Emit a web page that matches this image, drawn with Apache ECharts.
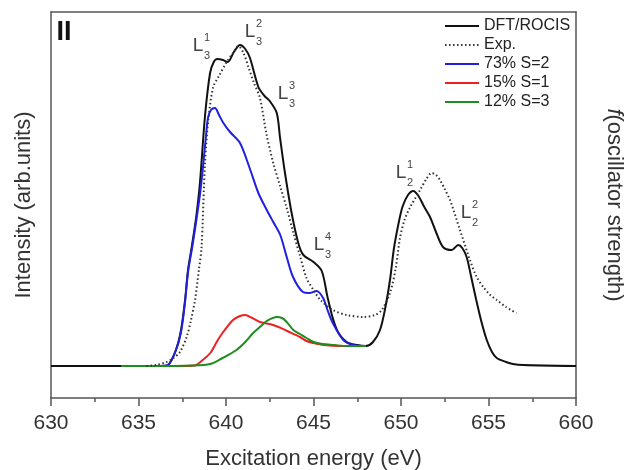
<!DOCTYPE html>
<html>
<head>
<meta charset="utf-8">
<script src="https://cdn.jsdelivr.net/npm/echarts@6/dist/echarts.min.js"></script>
<style>
html,body{margin:0;padding:0;background:#fff;}
#chart{width:627px;height:470px;}
</style>
</head>
<body>
<div id="chart"></div>
<script>
// ---- Data (x: excitation energy in eV, y: intensity in arbitrary units) ----
var xTicks = [630, 635, 640, 645, 650, 655, 660];

var dftRocis = [[630,32],[636,32],[636.4,32.3],[636.69,33],[637.14,48],[637.43,68],[637.66,98],[637.83,128],[638.06,153],[638.29,180],[638.51,215],[638.8,282],[639.09,325],[639.3,336],[639.5,339],[639.83,338],[640.1,336],[640.45,346],[640.8,353],[641.1,349],[641.37,340],[641.85,311],[642.2,302],[642.5,297],[642.9,285],[643.09,260],[643.37,225],[643.75,185],[644.13,155],[644.42,143],[645.0,136],[645.47,127],[645.8,101],[646.1,80],[646.4,66],[646.9,56],[647.5,53],[648.0,52],[648.4,56],[648.8,68],[649.1,90],[649.37,118],[649.6,150],[649.9,178],[650.1,192],[650.4,203],[650.7,207],[651.0,202],[651.3,192],[651.66,181],[652.0,166],[652.4,151],[652.9,148],[653.27,153],[653.5,150],[653.75,141],[654.0,122],[654.3,98],[654.6,76],[654.9,58],[655.2,46],[655.47,40],[656.0,36],[656.4,34],[657,33],[660,32]];

var experiment = [[635.46,32],[636.0,33],[636.6,36],[637.0,40],[637.37,46],[637.75,61],[638.0,78],[638.23,98],[638.45,128],[638.6,150],[638.8,235],[639.0,280],[639.27,311],[639.6,322],[640.04,336],[640.4,345],[640.7,352],[641.0,345],[641.3,330],[641.6,315],[641.94,300],[642.3,265],[642.7,235],[643.09,212],[643.47,190],[643.85,165],[644.23,142],[644.6,120],[645.0,108],[645.4,98],[646.1,88],[646.9,83],[647.85,81],[648.5,83],[648.9,88],[649.37,105],[649.7,130],[649.94,160],[650.2,178],[650.5,190],[651.09,208],[651.45,219],[651.75,225],[652.0,223],[652.23,218],[652.5,209],[652.8,198],[653.37,168],[653.94,138],[654.3,122],[654.7,111],[655.1,103],[655.47,98],[656.0,91],[656.6,85]];

var s2 = [[636.3,32],[636.69,33],[637.14,48],[637.43,66],[637.66,96],[637.83,126],[638.06,150],[638.29,176],[638.51,203],[638.69,232],[638.86,263],[638.97,280],[639.14,288],[639.37,290],[639.6,283],[639.85,275],[640.23,266],[640.8,255],[641.37,229],[641.85,205],[642.33,188],[642.7,176],[643.1,163],[643.47,141],[643.83,121],[644.4,106],[644.8,105],[645.18,107],[645.55,100],[645.8,88],[646.1,75],[646.7,58],[647.27,53],[648.0,52]];

var s1 = [[634,32],[637.5,32],[638.2,32.5],[638.6,37],[639.1,45],[639.5,57],[639.8,65],[640.4,78],[640.8,82],[641.09,83],[641.5,80],[641.94,76],[642.5,74],[643.0,71],[643.5,67],[644.23,61],[644.6,57],[645.0,55],[645.6,53],[646.5,52],[648.0,52]];

var s3 = [[634,32],[636,32],[638,32.5],[639.1,34],[639.8,40],[640.6,48],[641.1,56],[641.55,65],[642.0,72],[642.33,77],[642.9,81],[643.2,80],[643.47,76],[643.85,68],[644.23,64],[644.6,60],[645.0,56],[645.5,54],[646.2,53],[646.9,52],[648.0,52]];

var seriesNames = ['DFT/ROCIS', 'Exp.', '73% S=2', '15% S=1', '12% S=3'];

var FONT = '"Liberation Sans", Arial, Helvetica, sans-serif';
var chart = echarts.init(document.getElementById('chart'), null, {renderer: 'canvas'});

function lbl(x, y, sup, sub) {
  return [
    {type: 'text', x: x, y: y, z: 100, style: {text: 'L', font: '19px ' + FONT, fill: '#444', align: 'center', verticalAlign: 'middle'}},
    {type: 'text', x: x + 9, y: y - 8, z: 100, style: {text: sup, font: '11px ' + FONT, fill: '#444', align: 'center', verticalAlign: 'middle'}},
    {type: 'text', x: x + 9, y: y + 10, z: 100, style: {text: sub, font: '11px ' + FONT, fill: '#444', align: 'center', verticalAlign: 'middle'}}
  ];
}

var graphics = [].concat(
  [{type: 'text', x: 64, y: 33, z: 100, style: {text: 'II', font: 'bold 27px ' + FONT, fill: '#111', align: 'center', verticalAlign: 'middle'}}],
  lbl(198, 46, '1', '3'),
  lbl(250, 32, '2', '3'),
  lbl(283, 94, '3', '3'),
  lbl(319, 245, '4', '3'),
  lbl(401, 173, '1', '2'),
  lbl(466, 213, '2', '2')
);

var axisColor = '#555';
var option = {
  animation: false,
  backgroundColor: '#fff',
  grid: {left: 51, right: 51, top: 12, bottom: 72, containLabel: false, outerBoundsMode: 'none'},
  legend: {
    data: seriesNames,
    orient: 'vertical',
    left: 444, top: 18,
    itemWidth: 34, itemHeight: 14, itemGap: 3,
    padding: 0,
    itemStyle: {opacity: 0},
    textStyle: {fontFamily: FONT, fontSize: 16, color: '#222'}
  },
  xAxis: [{
    type: 'value', min: 630, max: 660, interval: 5,
    name: 'Excitation energy (eV)', nameLocation: 'middle', nameGap: 50,
    nameTextStyle: {fontFamily: FONT, fontSize: 22, color: '#333'},
    axisLine: {show: true, lineStyle: {color: axisColor, width: 1.5}},
    axisTick: {show: true, inside: false, length: 8, lineStyle: {color: axisColor, width: 1.5}},
    minorTick: {show: true, splitNumber: 2, length: 4, lineStyle: {color: axisColor, width: 1.5}},
    axisLabel: {fontFamily: FONT, fontSize: 21, color: '#333', margin: 15},
    splitLine: {show: false}
  }, {
    type: 'value', position: 'top', min: 630, max: 660,
    axisLine: {show: true, onZero: false, lineStyle: {color: axisColor, width: 1.5}},
    axisTick: {show: false}, axisLabel: {show: false}, splitLine: {show: false}
  }],
  yAxis: [{
    type: 'value', min: 0, max: 386, position: 'left',
    name: 'Intensity (arb.units)', nameLocation: 'middle', nameGap: 16, nameRotate: 90,
    nameTextStyle: {fontFamily: FONT, fontSize: 22, color: '#333'},
    axisLine: {show: true, onZero: false, lineStyle: {color: axisColor, width: 1.5}},
    axisTick: {show: false}, axisLabel: {show: false}, splitLine: {show: false}
  }, {
    type: 'value', min: 0, max: 386, position: 'right',
    name: '{i|f}(oscillator strength)', nameLocation: 'middle', nameGap: 27, nameRotate: -90,
    nameTextStyle: {fontFamily: FONT, fontSize: 22, color: '#333', rich: {i: {fontFamily: FONT, fontSize: 22, color: '#333', fontStyle: 'italic'}}},
    axisLine: {show: true, onZero: false, lineStyle: {color: axisColor, width: 1.5}},
    axisTick: {show: false}, axisLabel: {show: false}, splitLine: {show: false}
  }],
  series: [
    {name: seriesNames[0], type: 'line', data: dftRocis, smooth: 0.3, symbol: 'none', showSymbol: false, z: 2,
     lineStyle: {color: '#111', width: 2}, itemStyle: {color: '#111'}},
    {name: seriesNames[1], type: 'line', data: experiment, smooth: 0.3, symbol: 'none', showSymbol: false, z: 6,
     lineStyle: {color: '#333', width: 2, type: [1.5, 2.5]}, itemStyle: {color: '#333'}},
    {name: seriesNames[2], type: 'line', data: s2, smooth: 0.3, symbol: 'none', showSymbol: false, z: 3,
     lineStyle: {color: '#2020e0', width: 2}, itemStyle: {color: '#2020e0'}},
    {name: seriesNames[3], type: 'line', data: s1, smooth: 0.3, symbol: 'none', showSymbol: false, z: 4,
     lineStyle: {color: '#ee2020', width: 2}, itemStyle: {color: '#ee2020'}},
    {name: seriesNames[4], type: 'line', data: s3, smooth: 0.3, symbol: 'none', showSymbol: false, z: 5,
     lineStyle: {color: '#1e8c1e', width: 2}, itemStyle: {color: '#1e8c1e'}}
  ],
  graphic: graphics
};
chart.setOption(option);
</script>
</body>
</html>
